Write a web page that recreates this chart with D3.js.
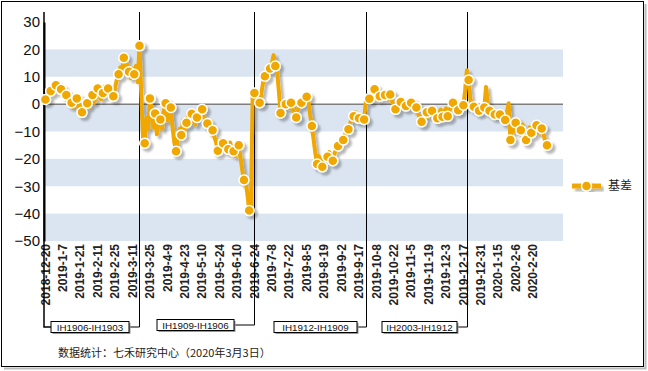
<!DOCTYPE html>
<html>
<head>
<meta charset="utf-8">
<script src="https://cdn.jsdelivr.net/npm/d3@7"></script>
<style>
  body { margin: 0; background: #fff; }
  svg { display: block; font-family: "Liberation Sans", Arial, sans-serif; }
</style>
</head>
<body>
<div id="chart"></div>
<script>
// 基差 (IH 合约价差), 每个交易日一个值, 2018-12-20 到 2020-3-3
const basis = [
  1.7, 3.5, 5.0, 4.8, 6.2, 5.5, 6.9, 6.0, 4.5, 5.4,
  4.0, 3.0, 3.3, 1.5, 1.9, 0.5, -1.0, 0.8, 2.1, -1.5,
  -0.4, -3.0, -2.0, -2.8, 0.3, -1.2, 1.0, 3.3, 0.5, 2.5,
  5.7, 3.0, 1.8, 4.1, 6.5, 3.5, 5.7, 4.0, 5.2, 2.9,
  6.0, 9.0, 10.9, 13.5, 12.0, 16.9, 13.0, 14.5, 11.8, 9.5,
  13.0, 10.9, 14.0, 8.0, 21.3, 4.0, -12.0, -14.3, -5.0, -9.0,
  2.1, -2.0, -8.5, -3.4, -11.0, -4.0, -5.6, -9.0, -2.5, 0.3,
  -6.0, -3.0, -1.2, -8.5, -14.0, -17.2, -12.0, -9.0, -11.3, -6.0,
  -9.5, -6.8, -4.0, -6.4, -3.5, -5.8, -7.5, -4.9, -3.5, -5.0,
  -1.9, -4.5, -6.0, -7.1, -8.0, -6.5, -9.5, -12.0, -14.0, -17.0,
  -15.0, -13.0, -14.3, -16.0, -15.0, -16.5, -14.0, -17.5, -17.2, -19.0,
  -16.0, -15.0, -19.5, -24.0, -27.7, -28.4, -33.0, -38.9, -39.8, 4.5,
  4.1, 1.5, 0.0, 0.5, 4.0, 8.0, 10.2, 11.5, 12.5, 13.0,
  15.0, 17.9, 13.9, 12.0, 5.0, -3.2, -1.0, 1.0, 0.0, 0.5,
  -1.5, 0.5, -2.0, -3.5, -4.9, -2.0, 0.0, 0.5, 1.5, 0.5,
  2.7, 1.0, -4.0, -8.0, -13.0, -18.0, -21.9, -19.0, -21.0, -22.9,
  -21.0, -18.5, -19.2, -17.5, -19.0, -20.7, -18.0, -16.5, -15.3, -13.5,
  -14.5, -13.1, -11.0, -10.0, -9.2, -7.0, -5.0, -4.4, -3.0, -4.5,
  -5.2, -4.0, -5.0, -5.6, 1.0, 3.3, 2.0, 3.5, 5.0, 5.4,
  3.0, 1.5, 2.9, 4.0, 2.5, 3.3, 4.5, 2.0, 3.5, 1.0,
  -0.5, -1.9, -0.5, 1.5, 0.8, 1.5, -1.0, -0.7, 0.5, -1.5,
  0.5, -0.5, -2.0, -1.2, -3.5, -5.0, -6.4, -4.0, -5.2, -3.0,
  -4.5, -1.5, -2.4, -4.0, -3.0, -5.2, -3.5, -2.0, -4.6, -3.0,
  -1.5, -4.4, -2.0, -1.0, 0.5, -1.5, -3.0, -2.2, -1.0, 0.5,
  -0.4, 5.0, 12.4, 8.8, 2.0, -0.5, -1.0, -2.0, -1.5, -2.4,
  -1.0, -2.0, -1.2, 6.3, 0.5, -2.4, -3.0, -2.5, -3.8, -3.0,
  -4.5, -3.8, -5.0, -4.5, -5.8, -3.0, 0.3, -13.1, -8.0, -10.0,
  -6.8, -9.0, -11.0, -9.5, -7.5, -10.5, -13.1, -11.0, -8.5, -10.5,
  -9.0, -8.0, -7.7, -10.5, -9.0, -8.9, -11.0, -13.5, -15.0
];

// 横轴标签, 每 10 个交易日一个
const tickLabels = [
  "2018-12-20", "2019-1-7", "2019-1-21", "2019-2-11", "2019-2-25", "2019-3-11",
  "2019-3-25", "2019-4-9", "2019-4-23", "2019-5-10", "2019-5-24", "2019-6-10",
  "2019-6-24", "2019-7-8", "2019-7-22", "2019-8-5", "2019-8-19", "2019-9-2",
  "2019-9-17", "2019-10-8", "2019-10-22", "2019-11-5", "2019-11-19", "2019-12-3",
  "2019-12-17", "2019-12-31", "2020-1-15", "2020-2-6", "2020-2-20"
];
const tickStep = 10;

const yTicks = [30, 20, 10, 0, -10, -20, -30, -40, -50];
const bandTops = [20, 0, -20, -40];

// 换月位置 (交易日序号) 及合约对
const rollIdx = [54, 120, 184, 242];
const spreadLabels = ["IH1906-IH1903", "IH1909-IH1906", "IH1912-IH1909", "IH2003-IH1912"];

const seriesName = "基差";
const sourceNote = "数据统计：七禾研究中心（2020年3月3日）";

const orange = "#f0a800";
const W = 648, H = 371;

const svg = d3.select("#chart").append("svg")
  .attr("width", W)
  .attr("height", H);

const defs = svg.append("defs");
const f = defs.append("filter").attr("id", "shadow")
  .attr("x", "-10%").attr("y", "-10%").attr("width", "120%").attr("height", "120%");
f.append("feDropShadow")
  .attr("dx", 3).attr("dy", 3).attr("stdDeviation", 1)
  .attr("flood-color", "#000").attr("flood-opacity", 0.28);

// 外框
svg.append("rect")
  .attr("x", 1.5).attr("y", 1.5).attr("width", 642).attr("height", 365)
  .attr("fill", "#fff").attr("stroke", "#000").attr("stroke-width", 1);
svg.append("path")
  .attr("d", "M645.5,4 V368.5 H4")
  .attr("fill", "none").attr("stroke", "#bbb").attr("stroke-width", 2);

const x = d3.scaleLinear().domain([-1.4, 297.2]).range([43, 563]);
const y = d3.scaleLinear().domain([-50, 30]).range([241, 22]);
const plotL = 44, plotR = 563;

// 条带
svg.append("g").selectAll("rect")
  .data(bandTops)
  .enter()
  .append("rect")
  .attr("x", plotL)
  .attr("width", plotR - plotL)
  .attr("y", d => y(d))
  .attr("height", d => y(d - 10) - y(d))
  .attr("fill", "#dbe5f1");

// 零线
svg.append("line")
  .attr("x1", plotL).attr("x2", plotR)
  .attr("y1", y(0)).attr("y2", y(0))
  .attr("stroke", "#7f7f7f").attr("stroke-width", 1.5);

// 纵轴
const yAxis = d3.axisLeft(y).tickValues(yTicks).tickSize(0).tickPadding(4);
const gy = svg.append("g")
  .attr("transform", `translate(${plotL},0)`)
  .call(yAxis);
gy.select(".domain").attr("stroke", "#000").attr("stroke-width", 2);
gy.selectAll("text")
  .attr("font-size", 15)
  .attr("font-family", "'Liberation Sans', Arial, sans-serif")
  .attr("fill", "#111");

// 横轴标签
svg.append("g").selectAll("text")
  .data(tickLabels)
  .enter()
  .append("text")
  .attr("transform", (d, i) => `translate(${x(i * tickStep)},244) rotate(-90)`)
  .attr("text-anchor", "end")
  .attr("dy", "0.35em")
  .attr("font-size", 12)
  .attr("font-weight", "bold")
  .attr("fill", "#222")
  .text(d => d);

// 换月分隔线与标签框
const brackets = svg.append("g");
brackets.append("path")
  .attr("d", `M${plotL},12 V327 H51`)
  .attr("fill", "none").attr("stroke", "#000").attr("stroke-width", 1.5);

const boxLeft = [51, 157, 274, 382];
const boxTop = [321.5, 319.5, 321.5, 321.5];
const boxW = [78, 77, 83, 75];
const boxH = 11;

rollIdx.forEach((r, i) => {
  const lx = Math.round(x(r)) + 0.5;
  const by = boxTop[i] + boxH / 2;
  brackets.append("path")
    .attr("d", `M${lx},12 V${by} H${boxLeft[i] + boxW[i]}`)
    .attr("fill", "none").attr("stroke", "#000").attr("stroke-width", 1);
});

spreadLabels.forEach((s, i) => {
  brackets.append("rect")
    .attr("x", boxLeft[i] + 1.5).attr("y", boxTop[i] + 1.5)
    .attr("width", boxW[i]).attr("height", boxH)
    .attr("fill", "#999");
  brackets.append("rect")
    .attr("x", boxLeft[i]).attr("y", boxTop[i])
    .attr("width", boxW[i]).attr("height", boxH)
    .attr("fill", "#fff").attr("stroke", "#000").attr("stroke-width", 1);
  brackets.append("text")
    .attr("x", boxLeft[i] + boxW[i] / 2)
    .attr("y", boxTop[i] + boxH / 2)
    .attr("dy", "0.36em")
    .attr("text-anchor", "middle")
    .attr("font-size", 9.8)
    .attr("fill", "#111")
    .text(s);
});

// 基差线
const series = svg.append("g").attr("filter", "url(#shadow)");
const line = d3.line()
  .x((d, i) => x(i))
  .y(d => y(d));
series.append("path")
  .datum(basis)
  .attr("d", line)
  .attr("fill", "none")
  .attr("stroke", orange)
  .attr("stroke-width", 4)
  .attr("stroke-linejoin", "round");

const markerData = basis.map((v, i) => ({ i, v })).filter(d => d.i % 3 === 0);
series.selectAll("circle")
  .data(markerData)
  .enter()
  .append("circle")
  .attr("cx", d => x(d.i))
  .attr("cy", d => y(d.v))
  .attr("r", 5)
  .attr("fill", orange)
  .attr("stroke", "#fff")
  .attr("stroke-width", 1.5);

// 图例
const lg = svg.append("g").attr("filter", "url(#shadow)");
lg.append("line")
  .attr("x1", 572).attr("x2", 601).attr("y1", 186).attr("y2", 186)
  .attr("stroke", orange).attr("stroke-width", 5);
lg.append("circle")
  .attr("cx", 586.5).attr("cy", 186).attr("r", 5)
  .attr("fill", orange).attr("stroke", "#fff").attr("stroke-width", 1.5);
svg.append("text")
  .attr("x", 608).attr("y", 186).attr("dy", "0.36em")
  .attr("font-size", 12)
  .attr("font-family", "'Noto Sans CJK SC', sans-serif")
  .attr("fill", "#222")
  .text(seriesName);

// 数据来源
svg.append("text")
  .attr("x", 58).attr("y", 353).attr("dy", "0.36em")
  .attr("font-size", 11)
  .attr("font-family", "'Noto Sans CJK SC', sans-serif")
  .attr("fill", "#222")
  .text(sourceNote);
</script>
</body>
</html>
